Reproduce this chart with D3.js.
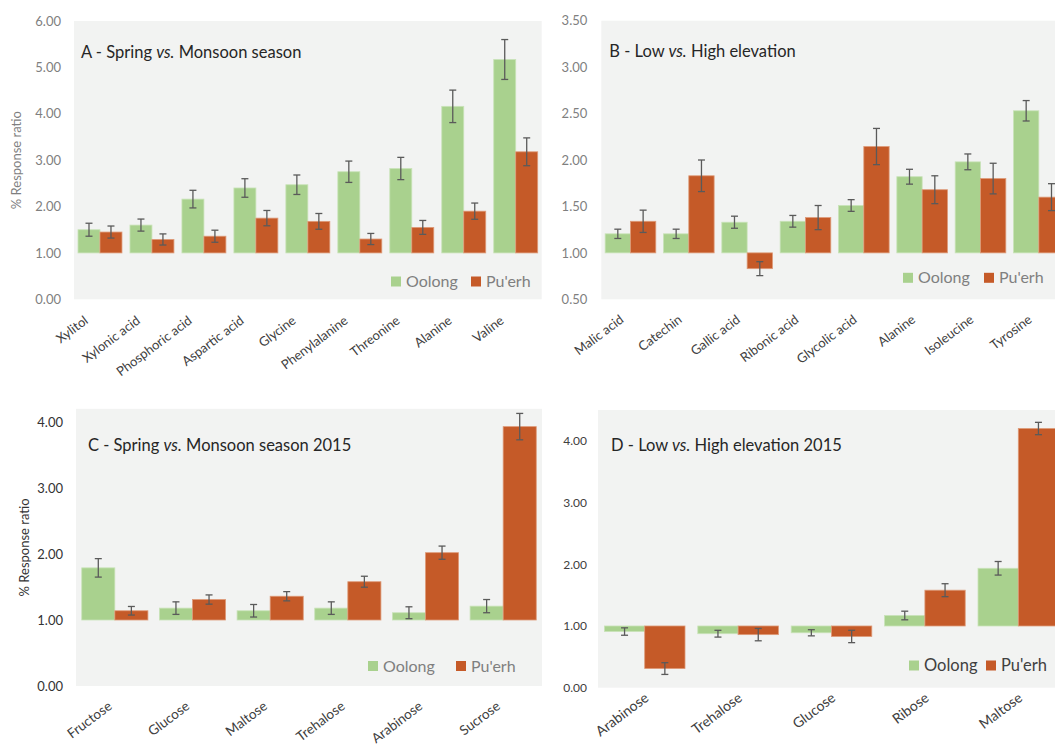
<!DOCTYPE html>
<html>
<head>
<meta charset="utf-8">
<script src="https://cdn.jsdelivr.net/npm/d3@7"></script>
<style>
  html, body { margin: 0; padding: 0; background: #ffffff; }
  svg { display: block; font-family: Lato, "Open Sans", sans-serif; }
</style>
</head>
<body>
<svg id="chart" width="1055" height="748"></svg>
<script>
// ---- Data ---------------------------------------------------------------
const seriesNames = ["Oolong", "Pu'erh"];

// A - Spring vs. Monsoon season
const catsA = ["Xylitol", "Xylonic acid", "Phosphoric acid", "Aspartic acid", "Glycine",
               "Phenylalanine", "Threonine", "Alanine", "Valine"];
const oolongA    = [1.50, 1.60, 2.16, 2.40, 2.47, 2.75, 2.82, 4.16, 5.17];
const oolongErrA = [0.14, 0.13, 0.19, 0.20, 0.21, 0.23, 0.24, 0.35, 0.43];
const puerhA     = [1.45, 1.29, 1.36, 1.75, 1.68, 1.30, 1.55, 1.90, 3.18];
const puerhErrA  = [0.13, 0.12, 0.13, 0.165, 0.17, 0.12, 0.15, 0.175, 0.30];
const ticksA     = [0, 1, 2, 3, 4, 5, 6];

// B - Low vs. High elevation
const catsB = ["Malic acid", "Catechin", "Gallic acid", "Ribonic acid", "Glycolic acid",
               "Alanine", "Isoleucine", "Tyrosine"];
const oolongB    = [1.205, 1.205, 1.33, 1.34, 1.51, 1.82, 1.98, 2.53];
const oolongErrB = [0.05, 0.05, 0.065, 0.063, 0.063, 0.08, 0.085, 0.11];
const puerhB     = [1.34, 1.83, 0.83, 1.38, 2.145, 1.68, 1.80, 1.60];
const puerhErrB  = [0.12, 0.17, 0.075, 0.13, 0.195, 0.15, 0.165, 0.145];
const ticksB     = [0.5, 1.0, 1.5, 2.0, 2.5, 3.0, 3.5];

// C - Spring vs. Monsoon season 2015
const catsC = ["Fructose", "Glucose", "Maltose", "Trehalose", "Arabinose", "Sucrose"];
const oolongC    = [1.79, 1.18, 1.14, 1.18, 1.11, 1.21];
const oolongErrC = [0.14, 0.095, 0.095, 0.095, 0.09, 0.10];
const puerhC     = [1.14, 1.31, 1.36, 1.58, 2.02, 3.93];
const puerhErrC  = [0.065, 0.07, 0.07, 0.083, 0.10, 0.20];
const ticksC     = [0, 1, 2, 3, 4];

// D - Low vs. High elevation 2015
const catsD = ["Arabinose", "Trehalose", "Glucose", "Ribose", "Maltose"];
const oolongD    = [0.91, 0.875, 0.89, 1.17, 1.935];
const oolongErrD = [0.06, 0.055, 0.05, 0.07, 0.11];
const puerhD     = [0.31, 0.86, 0.83, 1.58, 4.20];
const puerhErrD  = [0.095, 0.10, 0.10, 0.105, 0.10];
const ticksD     = [0, 1, 2, 3, 4];

// ---- Styling ------------------------------------------------------------
const colors = { "Oolong": "#A9D18E", "Pu'erh": "#C55A28" };
const edges  = { "Oolong": "#C9E3B8", "Pu'erh": "#DE9A78" };
const plotFill = "#F2F3F2";
const errColor = "#5A5A5A";

const svg = d3.select("#chart");
const fmt = d3.format(".2f");

function drawPanel(p) {
  const g = svg.append("g");

  // plot background
  g.append("rect")
    .attr("x", p.left).attr("y", p.top)
    .attr("width", p.right - p.left).attr("height", p.bottom - p.top)
    .attr("fill", plotFill);

  const x = d3.scaleBand().domain(p.cats).range([p.left, p.right])
    .paddingInner(p.gap).paddingOuter(p.gap / 2);
  const xs = d3.scaleBand().domain(seriesNames).range([0, x.bandwidth()]);
  const y = d3.scaleLinear().domain(p.domain).range([p.bottom, p.top]);

  // y axis labels (no line, no ticks)
  const ay = g.append("g")
    .attr("transform", `translate(${p.left - p.tickGap},0)`)
    .call(d3.axisLeft(y).tickValues(p.ticks).tickFormat(fmt).tickSize(0).tickPadding(0));
  ay.select(".domain").remove();
  ay.selectAll("text")
    .attr("fill", p.tickColor)
    .style("font-size", p.tickSize + "px")
    .style("font-family", "Lato, sans-serif");

  // category labels, rotated
  const ax = g.append("g")
    .attr("transform", `translate(0,${p.bottom})`)
    .call(d3.axisBottom(x).tickSize(0).tickPadding(0));
  ax.select(".domain").remove();
  ax.selectAll("text")
    .attr("y", 0).attr("dy", 0)
    .attr("transform", `translate(${p.labelDx},${p.labelDy}) rotate(${p.labelAngle})`)
    .style("text-anchor", "end")
    .style("font-size", p.labelSize + "px")
    .style("font-family", "Lato, sans-serif")
    .attr("fill", "#404040");

  // bars and error bars
  const rows = p.cats.map((c, i) => ({
    cat: c,
    vals: [
      { s: "Oolong", v: p.oolong[i], e: p.oolongErr[i] },
      { s: "Pu'erh", v: p.puerh[i], e: p.puerhErr[i] }
    ]
  }));
  const y0 = y(p.base);
  const grp = g.selectAll("g.cat").data(rows).join("g")
    .attr("class", "cat")
    .attr("transform", d => `translate(${x(d.cat)},0)`);

  grp.selectAll("rect").data(d => d.vals).join("rect")
    .attr("x", d => xs(d.s))
    .attr("y", d => Math.min(y(d.v), y0))
    .attr("width", xs.bandwidth())
    .attr("height", d => Math.abs(y(d.v) - y0))
    .attr("fill", d => colors[d.s])
    .attr("stroke", d => edges[d.s])
    .attr("stroke-width", 0.8);

  const cap = 3.5;
  const eb = grp.selectAll("g.err").data(d => d.vals).join("g").attr("class", "err")
    .attr("stroke", errColor).attr("stroke-width", 1.3).attr("fill", "none");
  eb.append("line")
    .attr("x1", d => xs(d.s) + xs.bandwidth() / 2).attr("x2", d => xs(d.s) + xs.bandwidth() / 2)
    .attr("y1", d => y(d.v - d.e)).attr("y2", d => y(d.v + d.e));
  eb.append("line")
    .attr("x1", d => xs(d.s) + xs.bandwidth() / 2 - cap).attr("x2", d => xs(d.s) + xs.bandwidth() / 2 + cap)
    .attr("y1", d => y(d.v + d.e)).attr("y2", d => y(d.v + d.e));
  eb.append("line")
    .attr("x1", d => xs(d.s) + xs.bandwidth() / 2 - cap).attr("x2", d => xs(d.s) + xs.bandwidth() / 2 + cap)
    .attr("y1", d => y(d.v - d.e)).attr("y2", d => y(d.v - d.e));

  // panel title with italic "vs."
  const t = g.append("text")
    .attr("x", p.left + p.titleDx).attr("y", p.top + p.titleDy)
    .attr("fill", "#262626")
    .style("font-size", p.titleSize + "px");
  t.append("tspan").text(p.title[0]);
  t.append("tspan").style("font-style", "italic").text("vs.");
  t.append("tspan").text(p.title[1]);

  // y axis title
  if (p.yTitle) {
    g.append("text")
      .attr("transform", `translate(${p.yTitleX},${(p.top + p.bottom) / 2}) rotate(-90)`)
      .attr("text-anchor", "middle")
      .attr("dy", "0.35em")
      .attr("fill", p.yTitleColor)
      .style("font-size", "13px")
      .text(p.yTitle);
  }

  // legend
  const lg = g.append("g").attr("transform", `translate(${p.legendX},${p.legendY})`);
  const items = lg.selectAll("g").data(seriesNames).join("g")
    .attr("transform", (d, i) => `translate(${i * p.legendStep},0)`);
  items.append("rect")
    .attr("x", 0).attr("y", -10.5).attr("width", 10).attr("height", 10)
    .attr("fill", d => colors[d]);
  items.append("text")
    .attr("x", 15).attr("y", 0)
    .attr("fill", p.legendColor)
    .style("font-size", p.legendSize + "px")
    .text(d => d);
}

drawPanel({
  cats: catsA, oolong: oolongA, oolongErr: oolongErrA, puerh: puerhA, puerhErr: puerhErrA,
  ticks: ticksA, domain: [0, 6], base: 1,
  left: 74, right: 541.7, top: 21, bottom: 299.3, gap: 0.154,
  tickGap: 13, tickSize: 13, tickColor: "#7F7F7F",
  labelDx: -11, labelDy: 23, labelAngle: -37, labelSize: 13,
  title: ["A - Spring ", " Monsoon season"], titleDx: 7, titleDy: 36.5, titleSize: 16.5,
  yTitle: "% Response ratio", yTitleX: 16, yTitleColor: "#7F7F7F",
  legendX: 391, legendY: 287, legendStep: 80, legendColor: "#7F7F7F", legendSize: 16
});

drawPanel({
  cats: catsB, oolong: oolongB, oolongErr: oolongErrB, puerh: puerhB, puerhErr: puerhErrB,
  ticks: ticksB, domain: [0.5, 3.5], base: 1,
  left: 601.3, right: 1068, top: 20.7, bottom: 299.3, gap: 0.132,
  tickGap: 14, tickSize: 13, tickColor: "#7F7F7F",
  labelDx: -6, labelDy: 22, labelAngle: -37, labelSize: 13,
  title: ["B - Low ", " High elevation"], titleDx: 8, titleDy: 36.6, titleSize: 16.5,
  yTitle: null,
  legendX: 903, legendY: 283.3, legendStep: 81, legendColor: "#7F7F7F", legendSize: 16
});

drawPanel({
  cats: catsC, oolong: oolongC, oolongErr: oolongErrC, puerh: puerhC, puerhErr: puerhErrC,
  ticks: ticksC, domain: [0, 4.2], base: 1,
  left: 76, right: 542, top: 408.8, bottom: 686, gap: 0.148,
  tickGap: 13, tickSize: 13, tickColor: "#333333",
  labelDx: -2, labelDy: 22, labelAngle: -37, labelSize: 13.5,
  title: ["C - Spring ", " Monsoon season 2015"], titleDx: 12, titleDy: 42, titleSize: 16.5,
  yTitle: "% Response ratio", yTitleX: 24, yTitleColor: "#333333",
  legendX: 368, legendY: 671.5, legendStep: 88, legendColor: "#7F7F7F", legendSize: 16
});

drawPanel({
  cats: catsD, oolong: oolongD, oolongErr: oolongErrD, puerh: puerhD, puerhErr: puerhErrD,
  ticks: ticksD, domain: [0, 4.5], base: 1,
  left: 598, right: 1065, top: 410, bottom: 687.7, gap: 0.137,
  tickGap: 11, tickSize: 12, tickColor: "#404040",
  labelDx: 5, labelDy: 12, labelAngle: -37, labelSize: 14,
  title: ["D - Low ", " High elevation 2015"], titleDx: 13, titleDy: 41, titleSize: 16.5,
  yTitle: null,
  legendX: 909, legendY: 671, legendStep: 77, legendColor: "#404040", legendSize: 16.5
});
</script>
</body>
</html>
